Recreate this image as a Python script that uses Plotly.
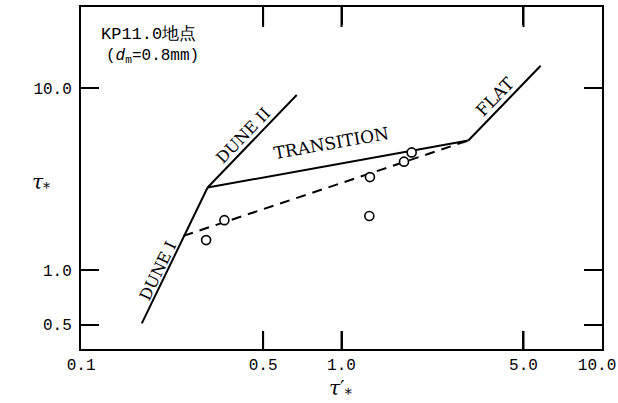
import numpy as np
import plotly.graph_objects as go

# Bed-form regime boundaries (tau'_* , tau_*)
dune1_x = [0.171, 0.306]
dune1_y = [0.509, 2.84]
dune2_x = [0.306, 0.673]
dune2_y = [2.84, 9.16]
transition_x = [0.306, 3.07]
transition_y = [2.84, 5.15]
flat_x = [3.07, 5.82]
flat_y = [5.15, 13.26]

# Fitted relation for this site (dashed)
fit_x = [0.247, 3.07]
fit_y = [1.54, 5.15]

# Observations at KP11.0
obs_x = [0.302, 0.355, 1.279, 1.286, 1.738, 1.86]
obs_y = [1.46, 1.88, 1.98, 3.24, 3.94, 4.43]

x_ticks = [0.1, 0.5, 1.0, 5.0, 10.0]
# the last label carries a trailing no-break space so it stays inside the page
x_tick_text = ["0.1", "0.5", "1.0", "5.0", "10.0\u00a0"]
y_ticks = [0.5, 1.0, 10.0]
y_tick_text = ["0.5", "1.0", "10.0"]

regime_labels = ["DUNE I", "DUNE II", "TRANSITION", "FLAT"]
label_x = [0.196, 0.419, 0.919, 3.88]
label_y = [0.987, 5.52, 4.99, 8.92]
label_angle = [-64, -46, -10, -46]
label_size = [16, 16, 17, 17]

SERIF = "DejaVu Serif"
MONO = "Liberation Mono"
line_style = dict(color="black", width=2)

fig = go.Figure()
for xs, ys in [(dune1_x, dune1_y), (dune2_x, dune2_y),
               (transition_x, transition_y), (flat_x, flat_y)]:
    fig.add_trace(go.Scatter(x=xs, y=ys, mode="lines", line=line_style,
                             showlegend=False, hoverinfo="skip"))

fig.add_trace(go.Scatter(x=fit_x, y=fit_y, mode="lines",
                         line=dict(color="black", width=2, dash="10px,7px"),
                         showlegend=False, hoverinfo="skip"))

fig.add_trace(go.Scatter(x=obs_x, y=obs_y, mode="markers",
                         marker=dict(symbol="circle", size=9, color="white",
                                     line=dict(color="black", width=1.6)),
                         showlegend=False))

for txt, lx, ly, ang, sz in zip(regime_labels, label_x, label_y,
                                label_angle, label_size):
    fig.add_annotation(x=np.log10(lx), y=np.log10(ly), text=txt,
                       textangle=ang, showarrow=False,
                       font=dict(family=SERIF, size=sz, color="black"))

fig.add_annotation(xref="paper", yref="paper", x=0.034, y=0.92,
                   xanchor="left", yanchor="middle", showarrow=False,
                   text="KP11.0地点",
                   font=dict(family=MONO, size=17, color="black"))
fig.add_annotation(xref="paper", yref="paper", x=0.044, y=0.856,
                   xanchor="left", yanchor="middle", showarrow=False,
                   text="(<i>d</i><sub>m</sub>=0.8mm)",
                   font=dict(family=MONO, size=16, color="black"))

# Axis titles
fig.add_annotation(xref="paper", yref="paper", x=-0.098, y=0.485,
                   showarrow=False, text="<i>τ</i><sub>*</sub>",
                   font=dict(family=SERIF, size=20, color="black"))
fig.add_annotation(xref="paper", yref="paper", x=0.499, y=-0.074,
                   yanchor="top", showarrow=False,
                   text="<i>τ</i>′<sub>*</sub>",
                   font=dict(family=SERIF, size=20, color="black"))

# Inner tick marks on the bottom and top frame lines (shape x in data units)
for v in x_ticks[1:-1]:
    fig.add_shape(type="line", xref="x", yref="paper", x0=v, x1=v,
                  y0=0, y1=18 / 342, line=dict(color="black", width=2))
    fig.add_shape(type="line", xref="x", yref="paper", x0=v, x1=v,
                  y0=1, y1=1 - 20 / 342, line=dict(color="black", width=2))

axis_common = dict(
    type="log", showgrid=False, zeroline=False, automargin=False,
    showline=True, linecolor="black", linewidth=2, mirror="ticks",
    ticks="inside", ticklen=18, tickwidth=2, tickcolor="black",
    tickfont=dict(family=MONO, size=16, color="black"),
    ticklabeloverflow="allow",
)

fig.update_xaxes(range=[-1.0005, 1.0005], tickmode="array", tickvals=x_ticks,
                 ticktext=x_tick_text, **axis_common)
fig.update_yaxes(range=[np.log10(0.368), np.log10(27.9)], tickmode="array",
                 tickvals=y_ticks, ticktext=y_tick_text,
                 ticklabelstandoff=4, **axis_common)

fig.update_layout(
    width=618, height=403,
    margin=dict(l=81, r=16, t=7, b=54, autoexpand=False),
    paper_bgcolor="white", plot_bgcolor="white",
    font=dict(family=SERIF, color="black"),
)

fig.write_html("out.html")
